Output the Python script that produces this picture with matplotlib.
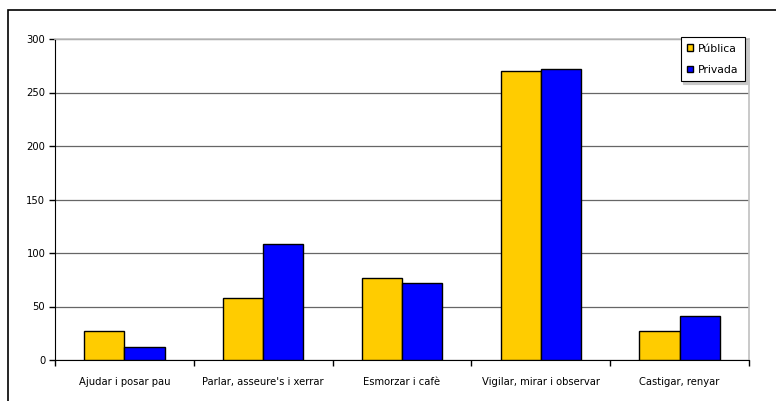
import matplotlib.pyplot as plt
import numpy as np
from matplotlib.patches import Rectangle

plt.rcParams['font.family'] = ['DejaVu Sans']

categories = ['Ajudar i posar pau', "Parlar, asseure's i xerrar", 'Esmorzar i cafè',
              'Vigilar, mirar i observar', 'Castigar, renyar']
publica = [27, 58, 77, 270, 27]
privada = [12, 108, 72, 272, 41]

fig = plt.figure(figsize=(7.76, 4.01), dpi=100)
# outer chart border (only left and top are inside the picture)
fig.patches.append(Rectangle((8 / 776, -0.5), 2, 1.5 - 10 / 401, transform=fig.transFigure,
                             fill=False, edgecolor='black', linewidth=1.2))

ax = fig.add_axes([55 / 776, 41 / 401, 694 / 776, 321 / 401])
x = np.arange(len(categories))
w = 0.29
ax.bar(x - w / 2, publica, w, color='#FFCC00', edgecolor='black', linewidth=1, label='Pública', zorder=3)
ax.bar(x + w / 2, privada, w, color='#0000FF', edgecolor='black', linewidth=1, label='Privada', zorder=3)

ax.set_xlim(-0.5, len(categories) - 0.5)
ax.set_ylim(0, 300)
ax.set_yticks(range(0, 301, 50))
ax.yaxis.grid(True, color='#666666', linewidth=0.9, zorder=0)
ax.set_xticks(x)
ax.set_xticklabels(categories, fontsize=7.2)
ax.set_xticks(np.arange(-0.5, len(categories)), minor=True)
ax.tick_params(axis='x', which='major', length=0, pad=12)
ax.tick_params(axis='x', which='minor', length=4, width=1, color='black')
ax.tick_params(axis='y', labelsize=7.2, length=4, width=1, pad=3)

ax.spines['left'].set_color('black')
ax.spines['bottom'].set_color('black')
ax.spines['top'].set_color('#C0C0C0')
ax.spines['right'].set_color('#C0C0C0')
ax.spines['top'].set_linewidth(1.2)
ax.spines['right'].set_linewidth(1.2)

leg = ax.legend(loc='upper right', bbox_to_anchor=(0.9942, 1.006), borderaxespad=0,
                fontsize=7.8, frameon=True, fancybox=False,
                shadow={'color': '#C8C8C8', 'alpha': 1}, edgecolor='black',
                handlelength=0.55, handleheight=0.55, handletextpad=0.45, borderpad=0.6,
                labelspacing=1.05)
leg.get_frame().set_linewidth(0.8)

fig.savefig('out.png', dpi=100)
